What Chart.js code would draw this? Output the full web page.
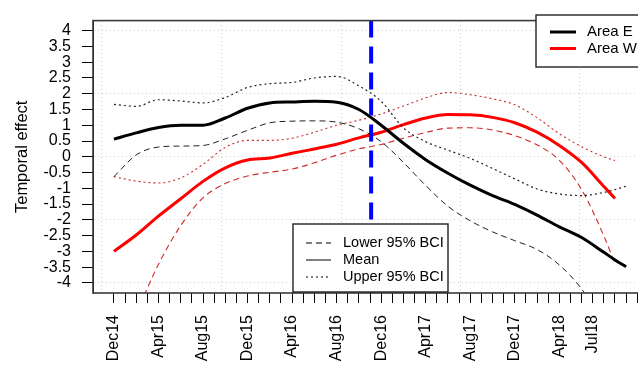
<!DOCTYPE html>
<html>
<head>
<meta charset="utf-8">
<script src="https://cdn.jsdelivr.net/npm/chart.js@4"></script>
<style>
  body { margin: 0; background: #fff; }
  #wrap { width: 638px; height: 366px; overflow: hidden; }
</style>
</head>
<body>
<div id="wrap"><canvas id="myChart" width="680" height="366"></canvas></div>
<script>
// months counted from Dec14 (= 0)
const months = [0, 2, 4, 6, 8, 10, 12, 14, 16, 18, 20, 22, 24, 26, 28, 30, 32, 34, 36, 38, 40, 42, 44, 45, 46];

const areaEMean = [0.56, 0.76, 0.93, 1.0, 1.0, 1.23, 1.54, 1.71, 1.74, 1.76, 1.73, 1.5, 1.0, 0.43, -0.09, -0.52, -0.9, -1.23, -1.51, -1.85, -2.22, -2.56, -3.03, -3.27, -3.49];
const areaELower = [-0.63, 0.06, 0.31, 0.34, 0.36, 0.57, 0.84, 1.08, 1.13, 1.14, 1.1, 0.89, 0.48, -0.18, -0.91, -1.57, -2.03, -2.38, -2.66, -2.94, -3.43, -4.19, -5.3, null, null];
const areaEUpper = [1.66, 1.6, 1.81, 1.77, 1.71, 1.88, 2.2, 2.32, 2.36, 2.5, 2.55, 2.25, 1.76, 0.92, 0.48, 0.21, -0.05, -0.37, -0.7, -1.02, -1.18, -1.23, -1.13, -1.04, -0.93];

const areaWMean = [-3.0, -2.48, -1.88, -1.33, -0.78, -0.35, -0.1, -0.04, 0.11, 0.25, 0.4, 0.6, 0.78, 1.02, 1.23, 1.34, 1.33, 1.25, 1.08, 0.78, 0.36, -0.18, -0.94, -1.32, null];
const areaWLower = [-6.4, -4.95, -3.41, -2.18, -1.3, -0.85, -0.61, -0.49, -0.39, -0.19, 0.05, 0.25, 0.39, 0.59, 0.77, 0.91, 0.92, 0.85, 0.67, 0.38, -0.11, -1.04, -2.51, -3.39, null];
const areaWUpper = [-0.63, -0.77, -0.83, -0.67, -0.24, 0.3, 0.52, 0.52, 0.59, 0.78, 1.0, 1.16, 1.36, 1.61, 1.87, 2.04, 1.97, 1.84, 1.65, 1.24, 0.73, 0.32, 0.0, -0.12, null];

// vertical dashed marker (between Oct16 and Nov16)
const cutMonth = 23.1;

// axis labels
const xLabelMonths = [0, 4, 8, 12, 16, 20, 24, 28, 32, 36, 40, 43];
const xLabels = ["Dec14", "Apr15", "Aug15", "Dec15", "Apr16", "Aug16", "Dec16", "Apr17", "Aug17", "Dec17", "Apr18", "Jul18"];
const yTicks = [-4, -3.5, -3, -2.5, -2, -1.5, -1, -0.5, 0, 0.5, 1, 1.5, 2, 2.5, 3, 3.5, 4];
const gridMonths = [-1.08, 9.67, 20.4, 31.1, 41.8];

const yMin = -4.32, yMax = 4.32;
const xMin = -1.88, xMax = 49;

const FONT = "'Liberation Sans', Arial, sans-serif";

function pts(vals) {
  return months.map((m, i) => ({ x: m, y: vals[i] }));
}

function lineSet(label, vals, color, width, dash) {
  return {
    label: label,
    data: pts(vals),
    borderColor: color,
    borderWidth: width,
    borderDash: dash,
    pointRadius: 0,
    fill: false,
    cubicInterpolationMode: "monotone",
    spanGaps: false,
  };
}

// frame + both legends
const extras = {
  id: "extras",
  afterDraw(chart) {
    const ctx = chart.ctx;
    const a = chart.chartArea;
    ctx.save();
    ctx.strokeStyle = "#3a3a3a";
    ctx.lineWidth = 1.6;
    ctx.setLineDash([]);
    ctx.strokeRect(a.left, a.top, a.right - a.left, a.bottom - a.top);

    // top right legend
    ctx.fillStyle = "#fff";
    ctx.fillRect(536, 15, 120, 52);
    ctx.lineWidth = 1.4;
    ctx.strokeStyle = "#222";
    ctx.strokeRect(536, 15, 120, 52);
    ctx.lineWidth = 3;
    ctx.strokeStyle = "#000";
    ctx.beginPath(); ctx.moveTo(550, 32); ctx.lineTo(576, 32); ctx.stroke();
    ctx.strokeStyle = "#ff0000";
    ctx.beginPath(); ctx.moveTo(550, 48.5); ctx.lineTo(576, 48.5); ctx.stroke();
    ctx.fillStyle = "#000";
    ctx.font = "15px " + FONT;
    ctx.textBaseline = "middle";
    ctx.fillText("Area E", 587, 32);
    ctx.fillText("Area W", 587, 48.5);

    // line type legend
    ctx.fillStyle = "#fff";
    ctx.fillRect(293, 224, 155, 68);
    ctx.lineWidth = 1.4;
    ctx.strokeStyle = "#222";
    ctx.strokeRect(293, 224, 155, 68);
    const rows = [["Lower 95% BCI", [6, 4], 243], ["Mean", [], 260], ["Upper 95% BCI", [2, 3], 277]];
    ctx.font = "14.5px " + FONT;
    rows.forEach(r => {
      ctx.strokeStyle = "#000";
      ctx.lineWidth = 1;
      ctx.setLineDash(r[1]);
      ctx.beginPath(); ctx.moveTo(306, r[2]); ctx.lineTo(331, r[2]); ctx.stroke();
      ctx.setLineDash([]);
      ctx.fillStyle = "#000";
      ctx.fillText(r[0], 343, r[2]);
    });
    ctx.restore();
  },
};

const chart1 = document.getElementById("myChart").getContext("2d");
const myChart1 = new Chart(chart1, {
  type: "line",
  data: {
    datasets: [
      {
        label: "cut",
        data: [{ x: cutMonth, y: yMax }, { x: cutMonth, y: yMin }],
        borderColor: "#0000ff",
        borderWidth: 4,
        borderDash: [17, 9],
        pointRadius: 0,
      },
      lineSet("Area E", areaEMean, "#000", 3, []),
      lineSet("Area E lower", areaELower, "#222", 1, [6, 4]),
      lineSet("Area E upper", areaEUpper, "#222", 1.2, [2, 3]),
      lineSet("Area W", areaWMean, "#ff0000", 3, []),
      lineSet("Area W lower", areaWLower, "#cc2a2a", 1.1, [6, 4]),
      lineSet("Area W upper", areaWUpper, "#cc2a2a", 1.1, [2, 3]),
    ],
  },
  options: {
    responsive: false,
    animation: false,
    devicePixelRatio: 1,
    layout: { padding: { top: 13, right: 20, left: 0, bottom: 0 } },
    plugins: {
      legend: { display: false },
      tooltip: { enabled: false },
    },
    scales: {
      x: {
        type: "linear",
        min: xMin,
        max: xMax,
        afterBuildTicks(scale) {
          const t = [];
          for (let m = 0; m <= 48; m++) t.push({ value: m });
          scale.ticks = t;
        },
        afterFit(scale) { scale.height = 73; },
        ticks: {
          autoSkip: false,
          minRotation: 90,
          maxRotation: 90,
          padding: 12,
          color: "#000",
          font: { family: FONT, size: 16 },
          callback: (v) => {
            const i = xLabelMonths.indexOf(v);
            return i >= 0 ? xLabels[i] : "";
          },
        },
        grid: {
          drawOnChartArea: false,
          drawTicks: true,
          tickLength: 10,
          tickColor: "#000",
          tickWidth: 1,
        },
        border: { display: false },
      },
      xg: {
        type: "linear",
        position: "top",
        min: xMin,
        max: xMax,
        afterBuildTicks(scale) {
          scale.ticks = gridMonths.map(v => ({ value: v }));
        },
        afterFit(scale) { scale.height = 0; },
        ticks: { display: false },
        grid: { drawTicks: false, color: "#cfcfcf", lineWidth: 1 },
        border: { display: false, dash: [1, 3] },
      },
      y: {
        type: "linear",
        min: yMin,
        max: yMax,
        afterBuildTicks(scale) {
          scale.ticks = yTicks.map(v => ({ value: v }));
        },
        afterFit(scale) { scale.width = 93; },
        ticks: {
          autoSkip: false,
          padding: 11,
          color: "#000",
          font: { family: FONT, size: 16 },
          callback: (v) => String(v),
        },
        grid: {
          color: (c) => (c.tick && c.tick.value % 2 === 0 ? "#cfcfcf" : "rgba(0,0,0,0)"),
          tickColor: "#000",
          tickLength: 11,
          tickWidth: 1,
        },
        border: { display: true, color: "#000", width: 1, dash: [1, 3] },
        title: {
          display: true,
          text: "Temporal effect",
          color: "#000",
          font: { family: FONT, size: 16.5 },
          padding: { top: 13, bottom: 0 },
        },
      },
    },
  },
  plugins: [extras],
});
</script>
</body>
</html>
